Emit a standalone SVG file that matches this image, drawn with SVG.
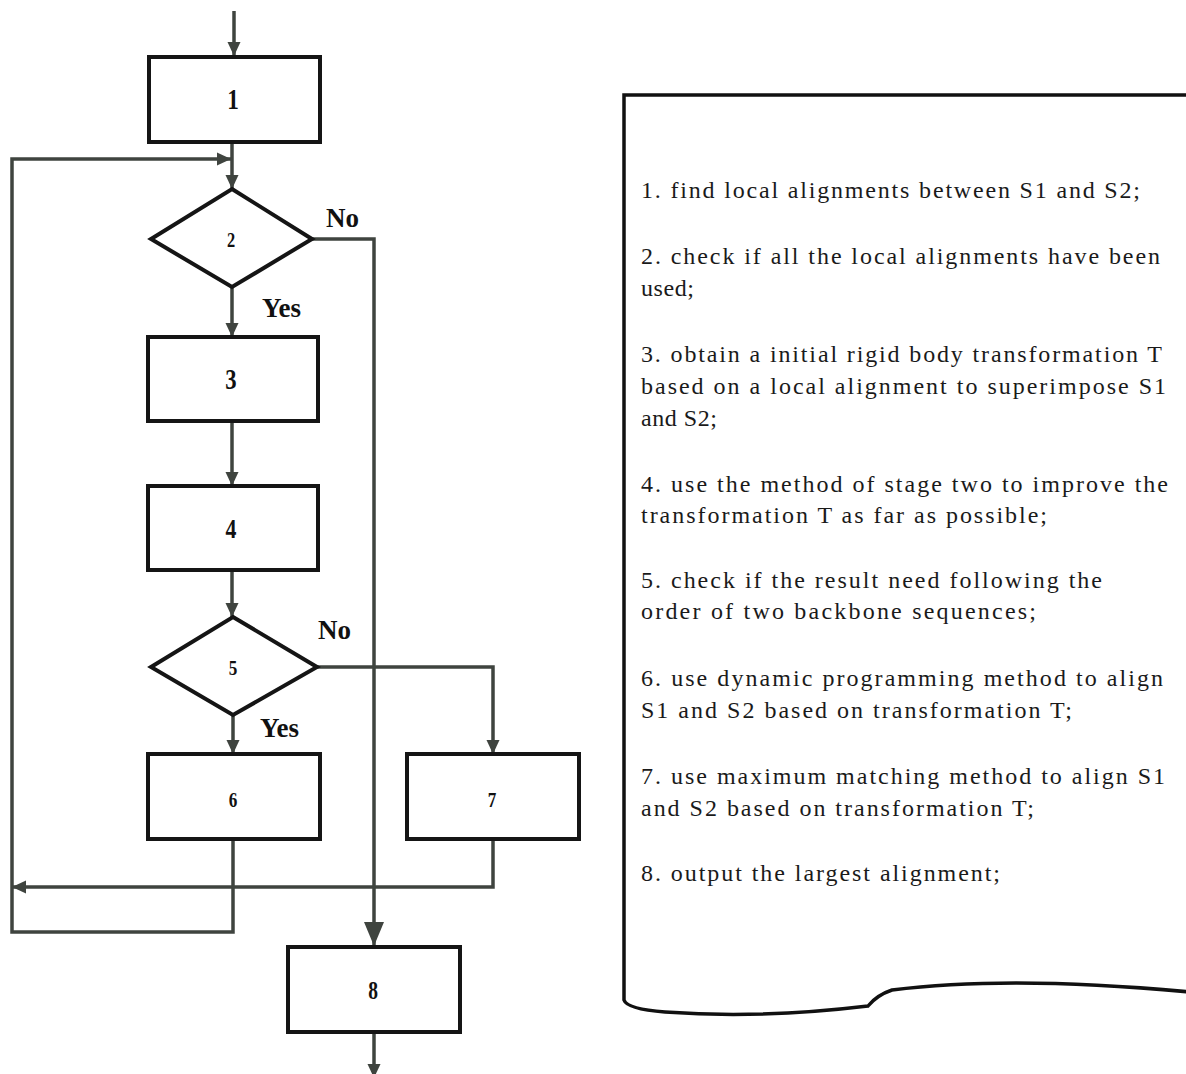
<svg xmlns="http://www.w3.org/2000/svg" width="1186" height="1074" viewBox="0 0 1186 1074">
<style>
.box{fill:#fff;stroke:#151515;stroke-width:4}
.dia{fill:#fff;stroke:#151515;stroke-width:4;stroke-linejoin:miter}
.num{font-family:"Liberation Serif",serif;font-weight:bold;fill:#111;text-anchor:middle}
.lbl{font-family:"Liberation Serif",serif;font-weight:bold;font-size:27px;fill:#111}
.con{fill:none;stroke:#3f443f;stroke-width:3.5}
.txt{font-family:"Liberation Serif",serif;font-size:24px;fill:#1a1a1a}
.doc{fill:none;stroke:#111;stroke-width:3.5}
</style>
<defs>
<marker id="arr" viewBox="0 0 14 14" refX="14" refY="7" markerWidth="14" markerHeight="14" markerUnits="userSpaceOnUse" orient="auto">
<path d="M0,0.5 L14,7 L0,13.5 z" fill="#3f443f"/>
</marker>
<marker id="arrBig" viewBox="0 0 24 20" refX="24" refY="10" markerWidth="24" markerHeight="20" markerUnits="userSpaceOnUse" orient="auto">
<path d="M0,0 L24,10 L0,20 z" fill="#3f443f"/>
</marker>
</defs>
<rect width="1186" height="1074" fill="#fff"/>

<g id="connectors">
<path class="con" d="M234 11 V56" marker-end="url(#arr)"/>
<path class="con" d="M232 143 V189" marker-end="url(#arr)"/>
<path class="con" d="M233 840 V932 H12 V159 H231" marker-end="url(#arr)"/>
<path class="con" d="M493 840 V887 H12" marker-end="url(#arr)"/>
<path class="con" d="M312 239 H374 V946" marker-end="url(#arrBig)"/>
<path class="con" d="M232 287 V337" marker-end="url(#arr)"/>
<path class="con" d="M232 421 V486" marker-end="url(#arr)"/>
<path class="con" d="M232 570 V617" marker-end="url(#arr)"/>
<path class="con" d="M317 667 H493 V754" marker-end="url(#arr)"/>
<path class="con" d="M233 715 V754" marker-end="url(#arr)"/>
<path class="con" d="M374 1032 V1078" marker-end="url(#arr)"/>
<text class="lbl" x="326" y="227">No</text>
<text class="lbl" x="262" y="317">Yes</text>
<text class="lbl" x="318" y="639">No</text>
<text class="lbl" x="260" y="737">Yes</text>
</g>

<g id="node1"><rect class="box" x="149" y="57" width="171" height="85"/><text class="num" transform="translate(233,109) scale(0.8,1)" font-size="29">1</text></g>
<g id="node2"><polygon class="dia" points="232,189 312,239 232,287 151,239"/><text class="num" transform="translate(231,247) scale(0.78,1)" font-size="21">2</text></g>
<g id="node3"><rect class="box" x="148" y="337" width="170" height="84"/><text class="num" transform="translate(231,389) scale(0.78,1)" font-size="29">3</text></g>
<g id="node4"><rect class="box" x="148" y="486" width="170" height="84"/><text class="num" transform="translate(231,538) scale(0.78,1)" font-size="28">4</text></g>
<g id="node5"><polygon class="dia" points="233,617 317,667 233,715 151,667"/><text class="num" transform="translate(233,675) scale(0.78,1)" font-size="22">5</text></g>
<g id="node6"><rect class="box" x="148" y="754" width="172" height="85"/><text class="num" transform="translate(233,807) scale(0.78,1)" font-size="22">6</text></g>
<g id="node7"><rect class="box" x="407" y="754" width="172" height="85"/><text class="num" transform="translate(492,807) scale(0.78,1)" font-size="22">7</text></g>
<g id="node8"><rect class="box" x="288" y="947" width="172" height="85"/><text class="num" transform="translate(373,999) scale(0.78,1)" font-size="25">8</text></g>

<g id="legend">
<path class="doc" d="M1190 95 H624 V1000 Q627 1009 665 1012 Q760 1019 868 1006 Q877 995 892 990 Q1010 975 1190 992"/>
<text class="txt" x="641" y="198" textLength="499" lengthAdjust="spacing">1. find local alignments between S1 and S2;</text>
<text class="txt" x="641" y="264" textLength="519" lengthAdjust="spacing">2. check if all the local alignments have been</text>
<text class="txt" x="641" y="296" textLength="53" lengthAdjust="spacing">used;</text>
<text class="txt" x="641" y="362" textLength="521" lengthAdjust="spacing">3. obtain a initial rigid body transformation T</text>
<text class="txt" x="641" y="394" textLength="525" lengthAdjust="spacing">based on a local alignment to superimpose S1</text>
<text class="txt" x="641" y="426" textLength="76" lengthAdjust="spacing">and S2;</text>
<text class="txt" x="641" y="492" textLength="527" lengthAdjust="spacing">4. use the method of stage two to improve the</text>
<text class="txt" x="641" y="523" textLength="406" lengthAdjust="spacing">transformation T as far as possible;</text>
<text class="txt" x="641" y="588" textLength="461" lengthAdjust="spacing">5. check if the result need following the</text>
<text class="txt" x="641" y="619" textLength="395" lengthAdjust="spacing">order of two backbone sequences;</text>
<text class="txt" x="641" y="686" textLength="522" lengthAdjust="spacing">6. use dynamic programming method to align</text>
<text class="txt" x="641" y="718" textLength="431" lengthAdjust="spacing">S1 and S2 based on transformation T;</text>
<text class="txt" x="641" y="784" textLength="524" lengthAdjust="spacing">7. use maximum matching method to align S1</text>
<text class="txt" x="641" y="816" textLength="393" lengthAdjust="spacing">and S2 based on transformation T;</text>
<text class="txt" x="641" y="881" textLength="359" lengthAdjust="spacing">8. output the largest alignment;</text>
</g>
</svg>
